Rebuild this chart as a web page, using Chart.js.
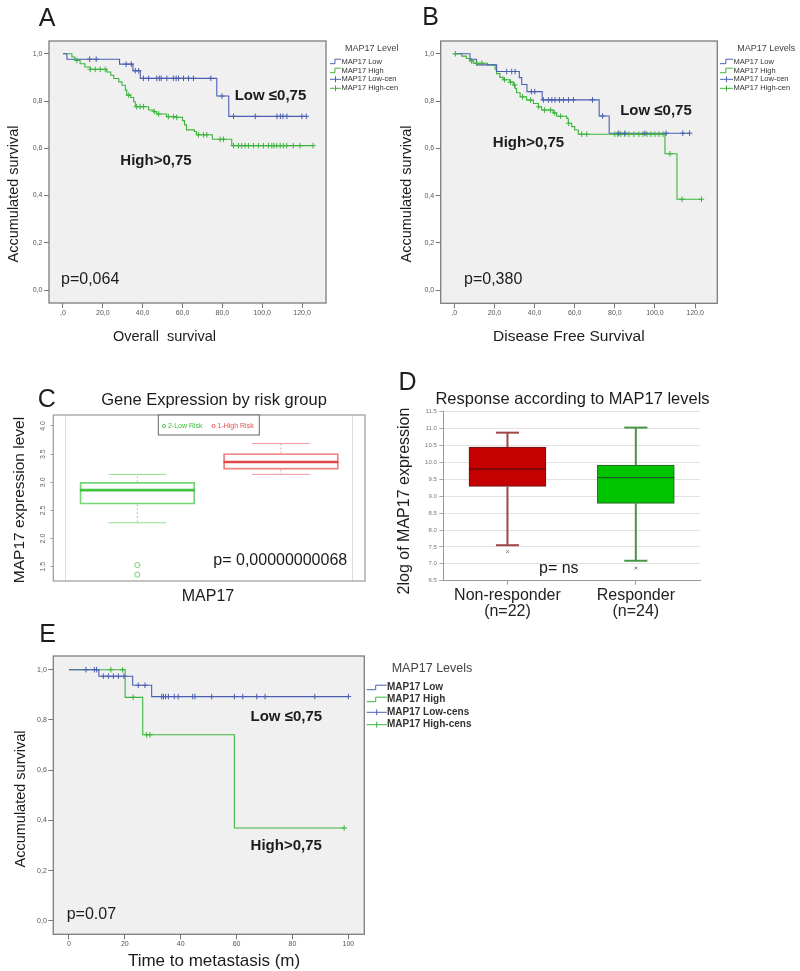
<!DOCTYPE html>
<html><head><meta charset="utf-8">
<script src="https://cdn.jsdelivr.net/npm/chart.js@4.4.1/dist/chart.umd.min.js"></script>
<style>
html,body{margin:0;padding:0;background:#fff;}
body{width:800px;height:971px;position:relative;overflow:hidden;}
canvas{position:absolute;}
</style></head><body>
<canvas id="cA" width="400" height="350" style="left:0px;top:0px"></canvas>
<canvas id="cB" width="400" height="350" style="left:400px;top:0px"></canvas>
<canvas id="cC" width="400" height="260" style="left:0px;top:350px"></canvas>
<canvas id="cD" width="410" height="275" style="left:390px;top:350px"></canvas>
<canvas id="cE" width="520" height="361" style="left:0px;top:610px"></canvas>
<script>
// ---------------- DATA ----------------
// KM common
const kmYTicks = [0, 0.2, 0.4, 0.6, 0.8, 1.0];
const kmYLabels = ['0,0', '0,2', '0,4', '0,6', '0,8', '1,0'];
const legendLabelsAB = ['MAP17 Low', 'MAP17 High', 'MAP17 Low-cen', 'MAP17 High-cen'];
const legendLabelsE = ['MAP17 Low', 'MAP17 High', 'MAP17 Low-cens', 'MAP17 High-cens'];

// Panel A - Overall survival
const aXTicks = [0, 20, 40, 60, 80, 100, 120];
const aXLabels = [',0', '20,0', '40,0', '60,0', '80,0', '100,0', '120,0'];
const aLowTime = [0, 2, 28.4, 35.1, 38.8, 77.2, 83.2, 122.1];
const aLowSurv = [1.0, 0.977, 0.956, 0.928, 0.896, 0.821, 0.735, 0.735];
const aLowCens = [13.4, 16.7, 31.7, 34.3, 36.3, 38, 40.4, 43, 47.1, 48.4, 49.3, 52.1, 55.4, 56.8, 58, 60.5, 63, 65.5, 74.2, 79.8, 85.6, 96.5, 107.4, 109.1, 110.4, 112.4, 119.9, 122.1];
const aHighTime = [0, 4.5, 6, 8.6, 11, 13.7, 22, 24, 25.5, 28, 29.6, 31.3, 32, 34, 35.5, 36.3, 43, 45.5, 47, 52, 57, 60, 61, 62, 66, 67, 75, 84.7, 125.5];
const aHighSurv = [1.0, 0.986, 0.972, 0.958, 0.944, 0.934, 0.923, 0.909, 0.895, 0.881, 0.867, 0.846, 0.825, 0.815, 0.797, 0.776, 0.762, 0.755, 0.745, 0.734, 0.731, 0.717, 0.699, 0.678, 0.671, 0.657, 0.638, 0.611, 0.611];
const aHighCens = [7, 13.7, 16.2, 18.7, 21.2, 33, 37, 38.7, 40.4, 45.8, 48, 52.9, 55.4, 57.1, 68, 70.5, 72.2, 78.9, 80.6, 85.6, 88.1, 89.7, 91.4, 93.1, 95.6, 98.1, 100.6, 103.1, 104.8, 105.9, 107.3, 109, 110.6, 112.3, 115.6, 119, 125.5];

// Panel B - Disease free survival
const bXTicks = [0, 20, 40, 60, 80, 100, 120];
const bXLabels = [',0', '20,0', '40,0', '60,0', '80,0', '100,0', '120,0'];
const bLowTime = [0, 7.8, 11, 21.1, 32.4, 33.6, 36.2, 43.8, 72.2, 77.2, 117.3];
const bLowSurv = [1.0, 0.977, 0.953, 0.925, 0.899, 0.87, 0.84, 0.805, 0.737, 0.664, 0.664];
const bLowCens = [26.1, 28.6, 30.3, 38.4, 40.1, 44.4, 46.9, 48.6, 50.2, 52.4, 54.4, 56.9, 59.4, 68.9, 73.9, 82, 85, 95, 105.6, 113.9, 117.3];
const bHighTime = [0, 3.7, 6, 7.8, 9.4, 16.5, 20.3, 21, 22.7, 24.4, 27.7, 29.4, 30.3, 31, 32.8, 36, 39.4, 41.9, 43.5, 49.3, 51, 56, 56.8, 58.5, 60, 61.8, 105, 111, 123.2];
const bHighSurv = [1.0, 0.99, 0.98, 0.97, 0.96, 0.953, 0.935, 0.916, 0.9, 0.89, 0.88, 0.868, 0.853, 0.835, 0.818, 0.804, 0.79, 0.776, 0.762, 0.75, 0.736, 0.727, 0.706, 0.692, 0.678, 0.66, 0.577, 0.385, 0.385];
const bHighCens = [0.5, 8.6, 11.2, 13.7, 25, 28, 30, 34, 38, 42, 45, 48, 50, 53, 57, 63.5, 66, 80, 81.5, 83, 85, 87, 89.5, 92, 94, 96, 98, 100, 102, 104, 107.5, 113.5, 123.2];

// Panel C - Gene expression by risk group
const cGroups = ['2-Low Risk', '1-High Risk'];
const cMin = [2.28, 3.14];
const cQ1 = [2.61, 3.23];
const cMed = [2.86, 3.36];
const cQ3 = [3.0, 3.51];
const cMax = [3.14, 3.69];
const cOutliers = [[1.53, 1.36], []];
const cYTicks = [1.5, 2.0, 2.5, 3.0, 3.5, 4.0];
const cYLabels = ['1.5', '2.0', '2.5', '3.0', '3.5', '4.0'];

// Panel D - Response according to MAP17 levels
const dGroups = [['Non-responder', '(n=22)'], ['Responder', '(n=24)']];
const dMin = [7.55, 7.09];
const dQ1 = [9.29, 8.79];
const dMed = [9.8, 9.55];
const dQ3 = [10.45, 9.92];
const dMax = [10.88, 11.03];
const dOutliers = [[7.36], [6.87]];
const dYTicks = [6.5, 7.0, 7.5, 8.0, 8.5, 9.0, 9.5, 10.0, 10.5, 11.0, 11.5];
const dYLabels = ['6.5', '7.0', '7.5', '8.0', '8.5', '9.0', '9.5', '10.0', '10.5', '11.0', '11.5'];

// Panel E - Time to metastasis
const eXTicks = [0, 20, 40, 60, 80, 100];
const eXLabels = ['0', '20', '40', '60', '80', '100'];
const eLowTime = [0, 10.7, 22.8, 29.6, 100];
const eLowSurv = [1.0, 0.974, 0.938, 0.893, 0.893];
const eLowCens = [6.1, 9.1, 9.9, 12.3, 14.1, 15.9, 17.7, 19.7, 24.8, 27.2, 33.2, 33.8, 34.6, 35.6, 37.7, 39.1, 44.3, 45.1, 51.1, 59.2, 62.2, 67.2, 70.2, 88, 100];
const eHighTime = [0, 20.1, 26.4, 59.2, 98.5];
const eHighSurv = [1.0, 0.89, 0.741, 0.37, 0.37];
const eHighCens = [15, 19.2, 23, 27.8, 29, 98.5];

// ---------------- STYLE / HELPERS ----------------
const FONT = "'Liberation Sans', Arial, Helvetica, sans-serif";
const TXT = '#1c1c1c';
const BLUE = '#4b5fb0';
const GREEN = '#3cb43c';
Chart.defaults.font.family = FONT;

function stepAt(ts, ss, x) {
  let v = ss[0];
  for (let i = 0; i < ts.length; i++) if (ts[i] <= x + 1e-9) v = ss[i];
  return v;
}
function labelFor(ticks, labels) {
  return v => { const i = ticks.findIndex(t => Math.abs(t - v) < 1e-9); return i >= 0 ? labels[i] : ''; };
}
function text(ctx, s, x, y, size, o) {
  o = o || {};
  ctx.save();
  ctx.font = (o.bold ? 'bold ' : '') + size + 'px ' + FONT;
  ctx.fillStyle = o.color || TXT;
  ctx.textAlign = o.align || 'center';
  ctx.textBaseline = 'middle';
  ctx.translate(x, y);
  if (o.rot) ctx.rotate(o.rot);
  ctx.fillText(s, 0, 0);
  ctx.restore();
}
function overlay(fn) {
  return { id: 'overlay', afterDraw(chart) { const ctx = chart.ctx; ctx.save(); fn(ctx, chart); ctx.restore(); } };
}
function plotBox(fill, stroke, lw) {
  return {
    id: 'plotbox',
    beforeDraw(chart) {
      if (!fill) return;
      const a = chart.chartArea, ctx = chart.ctx;
      ctx.save(); ctx.fillStyle = fill; ctx.fillRect(a.left, a.top, a.right - a.left, a.bottom - a.top); ctx.restore();
    },
    afterDatasetsDraw(chart) {
      if (!stroke) return;
      const a = chart.chartArea, ctx = chart.ctx;
      ctx.save(); ctx.strokeStyle = stroke; ctx.lineWidth = lw;
      ctx.strokeRect(a.left, a.top, a.right - a.left, a.bottom - a.top); ctx.restore();
    }
  };
}
function kmLegend(ctx, L) {
  text(ctx, L.title, L.tx, L.ty, L.tsize, { align: 'left', color: '#444' });
  const kinds = ['step', 'step', 'cens', 'cens'];
  const cols = [BLUE, GREEN, BLUE, GREEN];
  L.labels.forEach((lab, i) => {
    const y = L.ys[i];
    ctx.save(); ctx.strokeStyle = cols[i]; ctx.lineWidth = 1; ctx.beginPath();
    if (kinds[i] === 'step') {
      const xm = L.x0 + (L.x1 - L.x0) * 0.45;
      ctx.moveTo(L.x0, y + 2); ctx.lineTo(xm, y + 2); ctx.lineTo(xm, y - 2.5); ctx.lineTo(L.x1, y - 2.5);
    } else {
      const xm = (L.x0 + L.x1) / 2;
      ctx.moveTo(L.x0, y); ctx.lineTo(L.x1, y); ctx.moveTo(xm, y - 3); ctx.lineTo(xm, y + 3);
    }
    ctx.stroke(); ctx.restore();
    text(ctx, lab, L.textX, y, L.size, { align: 'left', color: '#333', bold: L.bold });
  });
}

function kmChart(id, c) {
  const series = [
    { t: c.lowT, s: c.lowS, cens: c.lowC, color: BLUE },
    { t: c.highT, s: c.highS, cens: c.highC, color: GREEN }
  ];
  const datasets = [];
  series.forEach(sr => {
    datasets.push({ data: sr.t.map((t, i) => ({ x: t, y: sr.s[i] })), showLine: true, stepped: 'before',
      borderColor: sr.color, borderWidth: 1.1, pointRadius: 0, fill: false, order: 2 });
    datasets.push({ data: sr.cens.map(t => ({ x: t, y: stepAt(sr.t, sr.s, t) })), showLine: false,
      pointStyle: 'cross', pointRadius: 2.8, pointBorderColor: sr.color, borderColor: sr.color, pointBorderWidth: 1, order: 1 });
  });
  return new Chart(document.getElementById(id), {
    type: 'scatter',
    data: { datasets },
    options: {
      responsive: false, devicePixelRatio: 1, animation: false,
      layout: { padding: c.pad },
      plugins: { legend: { display: false }, tooltip: { enabled: false } },
      scales: {
        x: { type: 'linear', min: c.xMin, max: c.xMax,
          afterBuildTicks: ax => { ax.ticks = c.xTicks.map(v => ({ value: v })); },
          ticks: { autoSkip: false, maxRotation: 0, minRotation: 0, padding: 1, color: '#555', font: { size: 7 }, callback: labelFor(c.xTicks, c.xLabels) },
          grid: { drawOnChartArea: false, drawTicks: true, tickLength: 5, color: '#777' },
          border: { display: false },
          afterFit: ax => { ax.height = c.xH; } },
        y: { type: 'linear', min: c.yMin, max: c.yMax,
          afterBuildTicks: ax => { ax.ticks = kmYTicks.map(v => ({ value: v })); },
          ticks: { autoSkip: false, padding: 1.5, color: '#555', font: { size: 7 }, callback: labelFor(kmYTicks, kmYLabels) },
          grid: { drawOnChartArea: false, drawTicks: true, tickLength: 5, color: '#777' },
          border: { display: false },
          afterFit: ax => { ax.width = c.yW; } }
      }
    },
    plugins: [plotBox('#f0f0f0', '#7d7d7d', 1.3), overlay(c.draw)]
  });
}

// ---------------- PANEL A ----------------
kmChart('cA', {
  lowT: aLowTime, lowS: aLowSurv, lowC: aLowCens, highT: aHighTime, highS: aHighSurv, highC: aHighCens,
  xMin: -7, xMax: 132, yMin: -0.055, yMax: 1.054, xTicks: aXTicks, xLabels: aXLabels,
  pad: { left: 0, top: 41, right: 74, bottom: 0 }, yW: 49, xH: 47,
  draw: ctx => {
    text(ctx, 'A', 47, 19, 25);
    text(ctx, 'Accumulated survival', 14, 194, 14.5, { rot: -Math.PI / 2 });
    text(ctx, 'Overall  survival', 164.5, 337, 14.5);
    text(ctx, 'Low ≤0,75', 270.5, 96, 15, { bold: true });
    text(ctx, 'High>0,75', 156, 161, 15, { bold: true });
    text(ctx, 'p=0,064', 61, 280, 16, { align: 'left' });
    kmLegend(ctx, { title: 'MAP17 Level', tx: 345, ty: 48.7, tsize: 9, x0: 330, x1: 341, textX: 341.5,
      ys: [61.7, 70.7, 79.3, 88.3], size: 7.5, labels: legendLabelsAB });
  }
});

// ---------------- PANEL B ----------------
kmChart('cB', {
  lowT: bLowTime, lowS: bLowSurv, lowC: bLowCens, highT: bHighTime, highS: bHighSurv, highC: bHighCens,
  xMin: -6.8, xMax: 131.1, yMin: -0.055, yMax: 1.054, xTicks: bXTicks, xLabels: bXLabels,
  pad: { left: 0, top: 41, right: 82.7, bottom: 0 }, yW: 40.7, xH: 46.7,
  draw: ctx => {
    text(ctx, 'B', 30.5, 18, 25);
    text(ctx, 'Accumulated survival', 6.7, 194, 14.5, { rot: -Math.PI / 2 });
    text(ctx, 'Disease Free Survival', 168.8, 336.7, 15.5);
    text(ctx, 'Low ≤0,75', 256, 111, 15, { bold: true });
    text(ctx, 'High>0,75', 128.5, 143, 15, { bold: true });
    text(ctx, 'p=0,380', 64, 280, 16, { align: 'left' });
    kmLegend(ctx, { title: 'MAP17 Levels', tx: 337.3, ty: 48.7, tsize: 9, x0: 320, x1: 333, textX: 333.5,
      ys: [61.7, 70.7, 79.3, 88.3], size: 7.5, labels: legendLabelsAB });
  }
});

// ---------------- PANEL E ----------------
kmChart('cE', {
  lowT: eLowTime, lowS: eLowSurv, lowC: eLowCens, highT: eHighTime, highS: eHighSurv, highC: eHighCens,
  xMin: -5.6, xMax: 105.7, yMin: -0.053, yMax: 1.0545, xTicks: eXTicks, xLabels: eXLabels,
  pad: { left: 0, top: 46, right: 155.7, bottom: 0 }, yW: 53.3, xH: 36.7,
  draw: ctx => {
    text(ctx, 'E', 47.5, 25, 25);
    text(ctx, 'Accumulated survival', 20.7, 189, 14.5, { rot: -Math.PI / 2 });
    text(ctx, 'Time to metastasis (m)', 214, 351.5, 17);
    text(ctx, 'Low ≤0,75', 286.3, 106.7, 15, { bold: true });
    text(ctx, 'High>0,75', 286.2, 235.7, 15, { bold: true });
    text(ctx, 'p=0.07', 66.7, 304.3, 16, { align: 'left' });
    kmLegend(ctx, { title: 'MAP17 Levels', tx: 391.7, ty: 59, tsize: 12.5, x0: 366.7, x1: 386.7, textX: 387,
      ys: [77.7, 89.7, 102.3, 114.7], size: 10, bold: true, labels: legendLabelsE });
  }
});

// ---------------- BOX PLOT HELPERS ----------------
function seg(x1, y1, x2, y2, color, width, dash) {
  return { type: 'line', data: [{ x: x1, y: y1 }, { x: x2, y: y2 }], borderColor: color, borderWidth: width,
    borderDash: dash || [], pointRadius: 0, fill: false, order: 0, clip: false };
}
function boxDatasets(st, sty) {
  const ds = [];
  ds.push({ type: 'bar', data: st.centers.map((c, i) => ({ x: c, y: [st.q1[i], st.q3[i]] })),
    backgroundColor: sty.fill, borderColor: sty.border, borderWidth: sty.boxLW, borderSkipped: false,
    barThickness: sty.thickness, order: 5 });
  st.centers.forEach((c, i) => {
    ds.push(seg(c, st.q3[i], c, st.max[i], sty.whisker[i], sty.wLW, sty.dash));
    ds.push(seg(c, st.q1[i], c, st.min[i], sty.whisker[i], sty.wLW, sty.dash));
    ds.push(seg(c - sty.capHW, st.max[i], c + sty.capHW, st.max[i], sty.whisker[i], sty.wLW));
    ds.push(seg(c - sty.capHW, st.min[i], c + sty.capHW, st.min[i], sty.whisker[i], sty.wLW));
    ds.push(seg(c - sty.boxHW, st.med[i], c + sty.boxHW, st.med[i], sty.median[i], sty.mLW));
    if (st.out[i].length) ds.push({ type: 'scatter', data: st.out[i].map(v => ({ x: c, y: v })),
      pointStyle: sty.outStyle, pointRadius: sty.outR, pointBorderColor: sty.outColor[i], borderColor: sty.outColor[i],
      pointBackgroundColor: 'rgba(0,0,0,0)', pointBorderWidth: 1, order: 0 });
  });
  return ds;
}

// ---------------- PANEL C ----------------
new Chart(document.getElementById('cC'), {
  type: 'bar',
  data: { datasets: boxDatasets(
    { centers: [1, 2], min: cMin, q1: cQ1, med: cMed, q3: cQ3, max: cMax, out: cOutliers },
    { fill: ['rgba(255,255,255,0)', 'rgba(255,255,255,0)'], border: ['#74d674', '#f08484'], boxLW: 1.2, thickness: 115,
      whisker: ['#8ade8a', '#f29a9a'], wLW: 1, dash: [2, 2], capHW: 0.2, boxHW: 0.4,
      median: ['#3ec43e', '#e24848'], mLW: 2.6, outStyle: 'circle', outR: 2.6, outColor: ['#6cd46c', '#f08484'] }) },
  options: {
    responsive: false, devicePixelRatio: 1, animation: false,
    layout: { padding: { left: 0, top: 65, right: 35, bottom: 0 } },
    plugins: { legend: { display: false }, tooltip: { enabled: false } },
    scales: {
      x: { type: 'linear', min: 0.415, max: 2.585, offset: false,
        afterBuildTicks: ax => { ax.ticks = [0.5, 2.5].map(v => ({ value: v })); },
        ticks: { display: false },
        grid: { offset: false, drawOnChartArea: true, drawTicks: false, color: '#dddddd' },
        border: { display: false },
        afterFit: ax => { ax.height = 29; } },
      y: { type: 'linear', min: 1.246, max: 4.195, beginAtZero: false,
        afterBuildTicks: ax => { ax.ticks = cYTicks.map(v => ({ value: v })); },
        ticks: { autoSkip: false, minRotation: 90, maxRotation: 90, crossAlign: 'center', padding: 2, color: '#666', font: { size: 7 },
          callback: labelFor(cYTicks, cYLabels) },
        grid: { drawOnChartArea: false, drawTicks: true, tickLength: 3, color: '#aaa' },
        border: { display: false },
        afterFit: ax => { ax.width = 53.3; } }
    }
  },
  plugins: [plotBox(null, '#9a9a9a', 1.2), overlay(ctx => {
    text(ctx, 'C', 46.7, 50, 25);
    text(ctx, 'Gene Expression by risk group', 214, 50, 16.5);
    text(ctx, 'MAP17 expression level', 20, 150, 15.5, { rot: -Math.PI / 2 });
    text(ctx, 'MAP17', 208, 246.7, 16);
    text(ctx, 'p= 0,00000000068', 213.3, 210.7, 16, { align: 'left' });
    // legend box
    ctx.fillStyle = '#fff'; ctx.fillRect(158.3, 65, 101, 20);
    ctx.strokeStyle = '#666'; ctx.lineWidth = 1; ctx.strokeRect(158.3, 65, 101, 20);
    const lx = [164, 213.5], lc = ['#3cbc3c', '#e84a4a'];
    cGroups.forEach((g, i) => {
      ctx.beginPath(); ctx.strokeStyle = lc[i]; ctx.lineWidth = 0.9; ctx.arc(lx[i], 76, 1.6, 0, Math.PI * 2); ctx.stroke();
      text(ctx, g, lx[i] + 4, 76, 7, { align: 'left', color: lc[i] });
    });
  })]
});

// ---------------- PANEL D ----------------
new Chart(document.getElementById('cD'), {
  type: 'bar',
  data: { datasets: boxDatasets(
    { centers: [1, 2], min: dMin, q1: dQ1, med: dMed, q3: dQ3, max: dMax, out: dOutliers },
    { fill: ['#c40000', '#00c400'], border: ['#7a1414', '#2a6e2a'], boxLW: 1.2, thickness: 77,
      whisker: ['#a04646', '#479447'], wLW: 2, dash: [], capHW: 0.09, boxHW: 0.3,
      median: ['#5a0c0c', '#1c5a1c'], mLW: 1.2, outStyle: 'crossRot', outR: 1.8, outColor: ['#777', '#777'] }) },
  options: {
    responsive: false, devicePixelRatio: 1, animation: false,
    layout: { padding: { left: 0, top: 61.7, right: 100, bottom: 0 } },
    plugins: { legend: { display: false }, tooltip: { enabled: false } },
    scales: {
      x: { type: 'linear', min: 0.5, max: 2.5, offset: false,
        afterBuildTicks: ax => { ax.ticks = [1, 2].map(v => ({ value: v })); },
        ticks: { autoSkip: false, maxRotation: 0, minRotation: 0, padding: 2, color: '#222', font: { size: 16, lineHeight: 1.05 },
          callback: v => dGroups[Math.round(v) - 1] },
        grid: { offset: false, drawOnChartArea: false, drawTicks: true, tickLength: 4, color: '#999' },
        border: { display: true, color: '#999', width: 1 },
        afterFit: ax => { ax.height = 44.3; } },
      y: { type: 'linear', min: 6.5, max: 11.5, beginAtZero: false,
        afterBuildTicks: ax => { ax.ticks = dYTicks.map(v => ({ value: v })); },
        ticks: { autoSkip: false, padding: 2.5, color: '#777', font: { size: 6 }, callback: labelFor(dYTicks, dYLabels) },
        grid: { drawOnChartArea: true, drawTicks: true, tickLength: 4, color: '#e2e2e2', tickColor: '#aaa' },
        border: { display: true, color: '#999', width: 1 },
        afterFit: ax => { ax.width = 53.3; } }
    }
  },
  plugins: [overlay(ctx => {
    text(ctx, 'D', 17.5, 33.3, 25);
    text(ctx, 'Response according to MAP17 levels', 182.5, 49.3, 16.5);
    text(ctx, '2log of MAP17 expression', 15, 151, 16, { rot: -Math.PI / 2 });
    text(ctx, 'p= ns', 149, 218.3, 16, { align: 'left' });
  })]
});
</script>
</body></html>
